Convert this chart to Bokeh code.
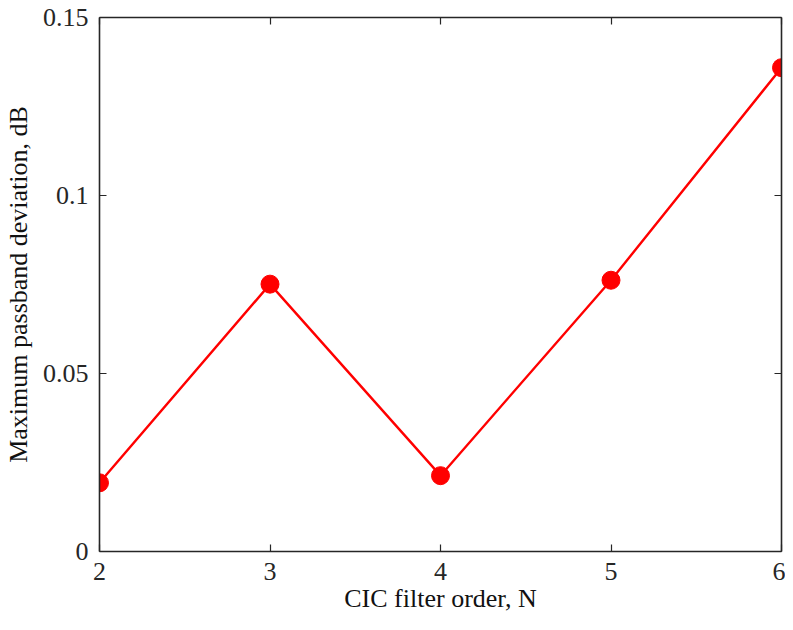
from bokeh.plotting import figure
from bokeh.models import LinearAxis, FixedTicker, Range1d, CustomJSTickFormatter
from bokeh.embed import file_html
from bokeh.resources import INLINE

orders = [2, 3, 4, 5, 6]
deviation = [0.0193, 0.0751, 0.0213, 0.0762, 0.1359]
x_ticks = [2, 3, 4, 5, 6]
y_ticks = [0, 0.05, 0.1, 0.15]
y_tick_labels = ["0", "0.05", "0.1", "0.15"]

FONT = "Liberation Serif"
AX = "#262626"

p = figure(width=785, height=622, output_backend="svg", toolbar_location=None,
           x_range=Range1d(2, 6), y_range=Range1d(0, 0.15),
           min_border_left=99, min_border_right=4, min_border_top=17, min_border_bottom=71)
p.grid.visible = False
p.outline_line_color = None
p.background_fill_color = "white"

p.line(orders, deviation, line_color="#ff0000", line_width=2.4)
p.scatter(orders, deviation, size=18, fill_color="#ff0000", line_color="#ff0000")

def style(ax):
    ax.axis_line_color = AX
    ax.axis_line_width = 1.6
    ax.major_tick_line_color = AX
    ax.major_tick_line_width = 1.2
    ax.major_tick_in = 7
    ax.major_tick_out = 0
    ax.minor_tick_line_color = None
    ax.major_label_text_font = FONT
    ax.major_label_text_font_size = "26px"
    ax.major_label_text_color = AX
    ax.axis_label_text_font = FONT
    ax.axis_label_text_font_size = "26px"
    ax.axis_label_text_font_style = "normal"
    ax.axis_label_text_color = "#111111"

xa = p.xaxis[0]
style(xa)
xa.ticker = FixedTicker(ticks=x_ticks)
xa.axis_label = "CIC filter order, N"
xa.major_label_standoff = 11
xa.axis_label_standoff = 1

ya = p.yaxis[0]
style(ya)
ya.ticker = FixedTicker(ticks=y_ticks)
ya.major_label_overrides = {t: l for t, l in zip(y_ticks, y_tick_labels)}
ya.axis_label = "Maximum passband deviation, dB"
ya.major_label_standoff = 11
ya.axis_label_standoff = 7

blank = CustomJSTickFormatter(code="return ''")
top = LinearAxis(ticker=FixedTicker(ticks=x_ticks), formatter=blank)
style(top)
top.major_label_standoff = 0
p.add_layout(top, "above")
right = LinearAxis(ticker=FixedTicker(ticks=y_ticks), formatter=blank)
style(right)
right.major_label_standoff = 0
p.add_layout(right, "right")

open("out.html", "w").write(file_html(p, INLINE))
